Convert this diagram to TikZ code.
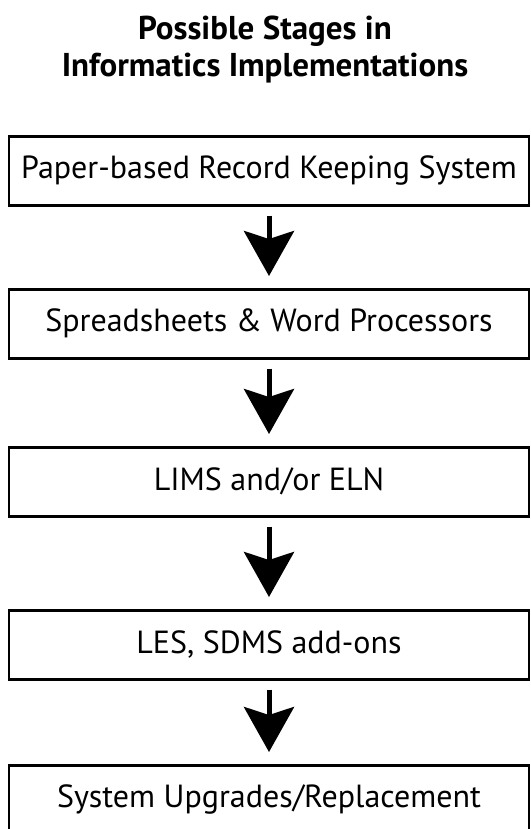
\documentclass[tikz,border=0pt]{standalone}
\usepackage{fontspec}
\setmainfont{PT Sans}
\usetikzlibrary{arrows.meta}
\tikzset{
  stagebox/.style={draw, line width=2.6pt, minimum width=520pt, minimum height=69pt, inner sep=0pt, font=\fontsize{32}{36}\selectfont, anchor=north},
  flowarrow/.style={line width=5pt, -{Stealth[length=45pt, width=50pt, inset=8pt]}, shorten <=9pt, shorten >=12pt},
  titletext/.style={font=\bfseries\fontsize{33}{37}\selectfont, align=center}
}
\begin{document}
\begin{tikzpicture}[x=1pt, y=-1pt]
\useasboundingbox (0,0) rectangle (530,829);
\clip (0,0) rectangle (530,829);
\node[titletext] (title) at (265,50) {Possible Stages in\\Informatics Implementations};
\node[stagebox] (b1) at (269,135) {Paper-based Record Keeping System};
\node[stagebox] (b2) at (269,288) {Spreadsheets \& Word Processors};
\node[stagebox] (b3) at (269,446) {LIMS and/or ELN};
\node[stagebox] (b4) at (269,609) {LES, SDMS add-ons};
\node[stagebox] (b5) at (269,764) {System Upgrades/Replacement};
\draw[flowarrow] (b1.south) -- (b2.north);
\draw[flowarrow] (b2.south) -- (b3.north);
\draw[flowarrow] (b3.south) -- (b4.north);
\draw[flowarrow] (b4.south) -- (b5.north);
\end{tikzpicture}
\end{document}
